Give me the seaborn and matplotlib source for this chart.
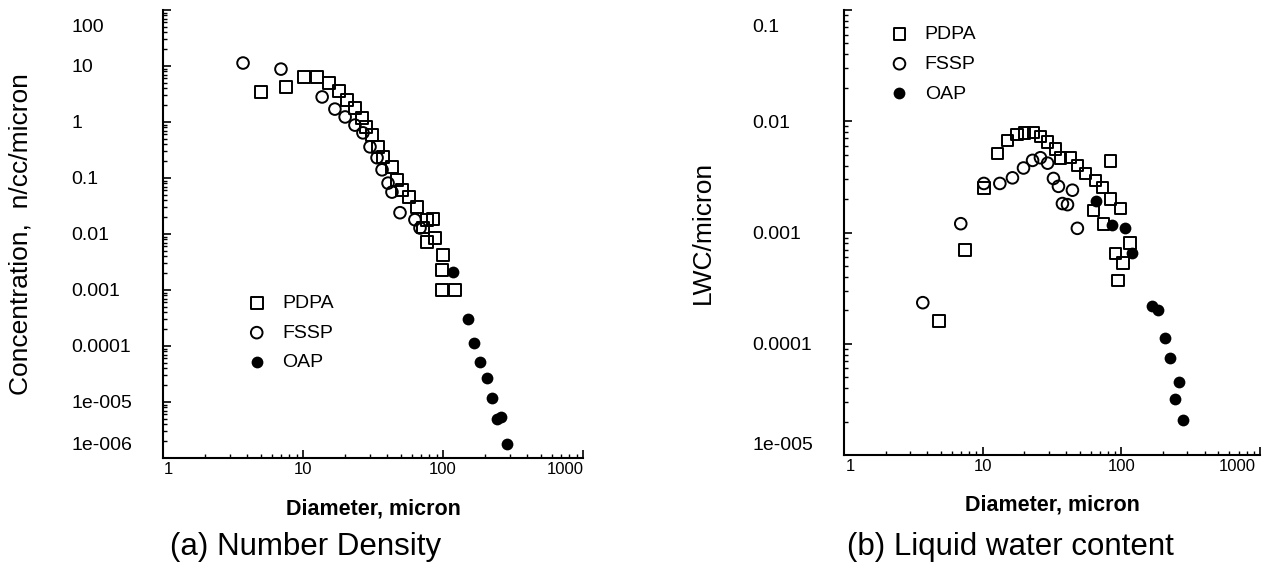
import numpy as np
import pandas as pd
import matplotlib
matplotlib.use("Agg")
import matplotlib.pyplot as plt
import seaborn as sns
from matplotlib.ticker import FixedLocator, LogLocator, NullFormatter
from matplotlib.transforms import ScaledTranslation

# ---------------- data ----------------
series_names = ["PDPA", "FSSP", "OAP"]

# (a) Number density  [diameter micron, concentration n/cc/micron]
pdpa_d_a = [5.0, 7.56, 10.2, 12.6, 15.3, 18.1, 20.6, 23.5, 26.4, 28.2, 31.1, 34.3, 37.3,
            43.2, 46.9, 51.0, 57.2, 65.2, 72.0, 76.9, 84.8, 87.7, 76.9, 100.0, 98.0, 98.0, 122.0]
pdpa_c_a = [3.4, 4.2, 6.4, 6.4, 5.0, 3.6, 2.5, 1.8, 1.18, 0.81, 0.59, 0.36, 0.24,
            0.157, 0.092, 0.061, 0.046, 0.030, 0.013, 0.018, 0.0185, 0.0085, 0.0072, 0.0042, 0.0023, 0.001, 0.001]
fssp_d_a = [3.73, 6.96, 13.7, 16.9, 20.0, 23.5, 26.8, 30.1, 33.8, 36.7, 40.5, 43.2, 49.3, 63.0, 68.5]
fssp_c_a = [11.3, 8.8, 2.8, 1.7, 1.23, 0.88, 0.64, 0.36, 0.23, 0.14, 0.081, 0.056, 0.024, 0.018, 0.0128]
oap_d_a = [118, 150, 167, 185, 207, 225, 261, 244, 288]
oap_c_a = [0.0021, 3.0e-4, 1.13e-4, 5.2e-5, 2.7e-5, 1.2e-5, 5.4e-6, 5.0e-6, 1.75e-6]

# (b) Liquid water content [diameter micron, LWC/micron]
pdpa_d_b = [4.82, 7.43, 10.2, 12.8, 15.1, 17.6, 20.0, 23.3, 26.1, 29.4, 33.5, 36.4, 43.0, 48.2,
            55.0, 65.0, 73.0, 83.4, 98.4, 83.4, 63.0, 74.3, 90.6, 103.0, 95.0, 116.0]
pdpa_l_b = [1.61e-4, 7.0e-4, 2.5e-3, 5.15e-3, 6.7e-3, 7.6e-3, 7.8e-3, 7.9e-3, 7.3e-3, 6.5e-3,
            5.6e-3, 4.65e-3, 4.74e-3, 4.0e-3, 3.4e-3, 2.94e-3, 2.54e-3, 2.0e-3, 1.64e-3, 4.37e-3,
            1.58e-3, 1.2e-3, 6.5e-4, 5.3e-4, 3.7e-4, 8.0e-4]
fssp_d_b = [3.70, 6.95, 10.2, 13.3, 16.4, 19.7, 22.9, 26.1, 29.4, 32.4, 35.2, 44.4, 37.6, 40.9, 48.2]
fssp_l_b = [2.34e-4, 1.2e-3, 2.76e-3, 2.76e-3, 3.1e-3, 3.8e-3, 4.45e-3, 4.7e-3, 4.2e-3,
            3.06e-3, 2.6e-3, 2.4e-3, 1.82e-3, 1.78e-3, 1.09e-3]
oap_d_b = [66, 86, 107, 120, 167, 185, 207, 225, 261, 244, 279]
oap_l_b = [1.9e-3, 1.16e-3, 1.1e-3, 6.6e-4, 2.2e-4, 2.0e-4, 1.13e-4, 7.5e-5, 4.5e-5, 3.2e-5, 2.07e-5]

x_ticks = [1, 10, 100, 1000]
x_tick_labels = ["1", "10", "100", "1000"]
y_ticks_a = [100, 10, 1, 0.1, 0.01, 0.001, 0.0001, 1e-5, 1e-6]
y_tick_labels_a = ["100", "10", "1", "0.1", "0.01", "0.001", "0.0001", "1e-005", "1e-006"]
y_ticks_b = [0.1, 0.01, 0.001, 0.0001, 1e-5]
y_tick_labels_b = ["0.1", "0.01", "0.001", "0.0001", "1e-005"]

# ---------------- style ----------------
sns.set_style("ticks")
plt.rcParams["font.family"] = ["Liberation Sans", "DejaVu Sans"]
plt.rcParams["axes.linewidth"] = 1.5
for key in ["text.color", "axes.labelcolor", "xtick.color", "ytick.color", "axes.edgecolor"]:
    plt.rcParams[key] = "black"

DPI = 100
fig = plt.figure(figsize=(12.64, 5.76), dpi=DPI)
ax_a = fig.add_axes([163 / 1264, 1 - 458 / 576, 420 / 1264, 448 / 576])
ax_b = fig.add_axes([844 / 1264, 1 - 455 / 576, 416 / 1264, 445 / 576])

markers = {"PDPA": "s", "FSSP": "o", "OAP": "o"}


def draw(ax, d_lists, v_lists):
    for name, d, v in zip(series_names, d_lists, v_lists):
        df = pd.DataFrame({"d": d, "v": v})
        if name == "OAP":
            sns.scatterplot(data=df, x="d", y="v", ax=ax, marker="o", s=72,
                            color="black", facecolor="black", edgecolor="black",
                            linewidth=0, label=name, legend=False, zorder=3)
        else:
            sns.scatterplot(data=df, x="d", y="v", ax=ax, marker=markers[name], s=70,
                            color="black", facecolor="none", edgecolor="black",
                            linewidth=1.4, label=name, legend=False, zorder=3)


draw(ax_a, [pdpa_d_a, fssp_d_a, oap_d_a], [pdpa_c_a, fssp_c_a, oap_c_a])
draw(ax_b, [pdpa_d_b, fssp_d_b, oap_d_b], [pdpa_l_b, fssp_l_b, oap_l_b])


def shift(label, dx_px, dy_px):
    label.set_transform(label.get_transform() +
                        ScaledTranslation(dx_px / DPI, dy_px / DPI, fig.dpi_scale_trans))


for ax, yt, ytl, ylim, ylabel in [
        (ax_a, y_ticks_a, y_tick_labels_a, (1e-6, 100), "Concentration,  n/cc/micron"),
        (ax_b, y_ticks_b, y_tick_labels_b, (1e-5, 0.1), "LWC/micron")]:
    ax.set_xscale("log")
    ax.set_yscale("log")
    ax.set_xlim(1, 1000)
    ax.set_ylim(*ylim)
    sns.despine(ax=ax)
    ax.xaxis.set_major_locator(FixedLocator(x_ticks))
    ax.xaxis.set_minor_locator(LogLocator(base=10, subs=np.arange(2, 10)))
    ax.xaxis.set_minor_formatter(NullFormatter())
    ax.set_xticks(x_ticks, x_tick_labels)
    ax.yaxis.set_minor_locator(LogLocator(base=10, subs=np.arange(2, 10), numticks=20))
    ax.yaxis.set_minor_formatter(NullFormatter())
    ax.set_yticks(yt, ytl)
    ax.tick_params(which="major", direction="in", length=6, width=1.2, color="black")
    ax.tick_params(which="minor", direction="in", length=3, width=1.0, color="black")
    ax.tick_params(axis="x", which="major", labelsize=12, pad=3, labelcolor="black")
    ax.tick_params(axis="y", which="major", labelsize=14, pad=66, labelcolor="black")
    for t in ax.get_yticklabels():
        t.set_horizontalalignment("left")
    ax.set_xlabel("Diameter, micron", fontsize=15.5, fontweight="bold", labelpad=15,
                  color="black")
    ax.set_ylabel(ylabel, fontsize=19, color="black")
    ax.yaxis.set_label_coords(-0.31, 0.5)
    ax.grid(False)

# end tick labels sit slightly inside the axis ends, as in the original software
yl = ax_a.get_yticklabels()
shift(yl[0], 0, -15)
shift(yl[-1], 0, 15)
xl = ax_a.get_xticklabels()
shift(xl[0], 5, 0)
shift(xl[-1], -18, 0)
yl = ax_b.get_yticklabels()
shift(yl[0], 0, -15)
shift(yl[-1], 0, 12)
xl = ax_b.get_xticklabels()
shift(xl[0], 6, 0)
shift(xl[-1], -23, 0)

leg_kw = dict(frameon=False, fontsize=14, handletextpad=0.8, labelspacing=0.62,
              borderpad=0, borderaxespad=0, handlelength=1.0, markerscale=1.0,
              labelcolor="black")
ax_a.legend(loc="upper left", bbox_to_anchor=(0.2, 0.365), **leg_kw)
ax_b.legend(loc="upper left", bbox_to_anchor=(0.11, 0.965), **leg_kw)

fig.text(306 / 1264, 1 - 547 / 576, "(a) Number Density", fontsize=22.5, ha="center",
         va="center", color="black")
fig.text(1010 / 1264, 1 - 547 / 576, "(b) Liquid water content", fontsize=22.5, ha="center",
         va="center", color="black")

fig.savefig("out.png", dpi=DPI)
